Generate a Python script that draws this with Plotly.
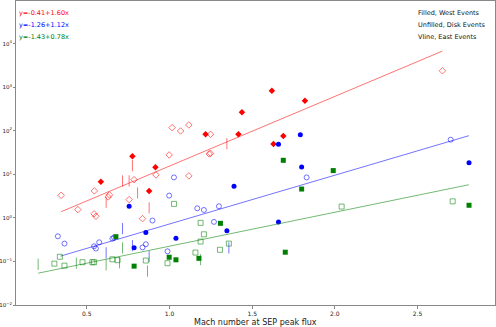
import plotly.graph_objects as go

# red = diamonds, blue = circles, green = squares
# filled = West, open = Disk, vline = East
red_west_x = [0.776, 0.915, 1.218, 1.417, 1.438, 1.619, 1.819, 1.688, 1.629, 0.585, 0.877]
red_west_y = [25.9, 14.5, 83, 83, 265, 830, 490, 76, 50, 6.8, 4.16]
red_disk_x = [0.998, 1.016, 1.067, 1.117, 1.248, 1.240, 1.248, 2.65, 0.345, 0.446, 0.546, 0.544,
              0.555, 0.637, 0.629, 0.786, 0.918, 1.117, 0.756, 0.837]
red_disk_y = [27.9, 118, 99, 136, 83, 29.4, 30.3, 2390, 3.3, 1.55, 4.16, 1.24,
              1.09, 3.37, 3.03, 7.55, 9.7, 9.2, 2.63, 0.96]
red_east_x = [1.347, 0.776, 0.617, 0.716, 0.756, 0.807, 0.877]
red_east_y = [50.6, 15.8, 2.28, 7.06, 7.06, 3.74, 1.7]

blue_west_x = [1.659, 1.791, 1.799, 2.811, 1.659, 0.756, 1.39, 1.347, 1.039, 0.857, 0.786]
blue_west_y = [48.8, 81, 14.8, 18.5, 0.81, 1.85, 5.3, 0.51, 0.34, 0.46, 0.205]
blue_disk_x = [2.70, 1.829, 1.027, 0.998, 0.897, 1.168, 1.208, 1.299, 1.269, 0.988, 0.857,
               0.655, 0.665, 0.837, 0.575, 0.544, 0.555, 0.325, 0.365]
blue_disk_y = [62.5, 8.5, 8.5, 3.25, 0.87, 1.66, 1.52, 1.85, 0.81, 0.171, 0.248,
               0.335, 0.353, 0.21, 0.275, 0.223, 0.198, 0.378, 0.257]
blue_east_x = [1.359, 0.716, 0.776, 0.877, 0.617]
blue_east_y = [0.205, 0.57, 0.231, 0.13, 0.157]

green_west_x = [1.688, 1.990, 1.799, 2.811, 1.700, 1.308, 1.178, 1.039, 0.998, 0.676, 0.786]
green_west_y = [21, 12.2, 4.6, 1.95, 0.163, 0.75, 0.118, 0.109, 0.125, 0.37, 0.078]
green_disk_x = [2.041, 2.712, 1.027, 1.188, 1.208, 1.188, 1.359, 1.305, 1.157, 0.988, 0.857,
                0.686, 0.655, 0.544, 0.534, 0.474, 0.365, 0.304, 0.337]
green_disk_y = [1.82, 2.4, 2.1, 0.77, 0.42, 0.286, 0.257, 0.185, 0.16, 0.091, 0.105,
                0.107, 0.112, 0.096, 0.096, 0.096, 0.08, 0.089, 0.128]
green_east_x = [1.188, 0.716, 0.867, 0.617, 0.437, 0.206, 0.698]
green_east_y = [0.11, 0.205, 0.06, 0.0836, 0.091, 0.086, 0.093]

# fit: log10(y) = a + b*x, drawn over [x0, x1]
fit_a = [-0.41, -1.26, -1.43]
fit_b = [1.60, 1.12, 0.78]
fit_x0 = [0.345, 0.341, 0.206]
fit_x1 = [2.65, 2.81, 2.81]

x_ticks = [0.5, 1.0, 1.5, 2.0, 2.5]
y_ticks = [1e-2, 1e-1, 1e0, 1e1, 1e2, 1e3, 1e4]
y_labels = ['10<sup>\u22122</sup>', '10<sup>\u22121</sup>', '10<sup>0</sup>', '10<sup>1</sup>',
            '10<sup>2</sup>', '10<sup>3</sup>', '10<sup>4</sup>']

colors = ['#ff0000', '#0000ff', '#008000']
light = ['rgba(255,0,0,0.55)', 'rgba(0,0,255,0.55)', 'rgba(0,128,0,0.55)']
shapes = ['diamond', 'circle', 'square']

groups = [
    (red_west_x, red_west_y, red_disk_x, red_disk_y, red_east_x, red_east_y),
    (blue_west_x, blue_west_y, blue_disk_x, blue_disk_y, blue_east_x, blue_east_y),
    (green_west_x, green_west_y, green_disk_x, green_disk_y, green_east_x, green_east_y),
]

fig = go.Figure()

for i, (wx, wy, dx, dy, ex, ey) in enumerate(groups):
    xs = [fit_x0[i], fit_x1[i]]
    ys = [10 ** (fit_a[i] + fit_b[i] * v) for v in xs]
    fig.add_trace(go.Scatter(x=xs, y=ys, mode='lines',
                             line=dict(color=light[i], width=1)))
    fig.add_trace(go.Scatter(x=wx, y=wy, mode='markers',
                             marker=dict(symbol=shapes[i], size=5, color=colors[i],
                                         line=dict(width=0))))
    fig.add_trace(go.Scatter(x=dx, y=dy, mode='markers',
                             marker=dict(symbol=shapes[i] + '-open', size=5, color=light[i],
                                         line=dict(width=1, color=light[i]))))
    fig.add_trace(go.Scatter(x=ex, y=ey, mode='markers',
                             marker=dict(symbol='line-ns', size=8,
                                         line=dict(width=1, color=light[i]))))

eq_text = ['y=-0.41+1.60x', 'y=-1.26+1.12x', 'y=-1.43+0.78x']
key_text = ['Filled, West Events', 'Unfilled, Disk Events', 'Vline, East Events']
for k in range(3):
    fig.add_annotation(x=0.003, y=0.961 - k * 0.0395, xref='paper', yref='paper',
                       text=eq_text[k], showarrow=False, xanchor='left', yanchor='middle',
                       font=dict(size=6.5, color=colors[k]))
    fig.add_annotation(x=0.835, y=0.961 - k * 0.0395, xref='paper', yref='paper',
                       text=key_text[k], showarrow=False, xanchor='left', yanchor='middle',
                       font=dict(size=6.5, color='#111111'))

# axis title as an annotation so it sits where the reference has it
fig.add_annotation(x=0.5, y=-0.057, xref='paper', yref='paper',
                   text='Mach number at SEP peak flux', showarrow=False,
                   xanchor='center', yanchor='middle',
                   font=dict(size=8, color='#222222'))

fig.update_layout(
    width=496, height=327,
    margin=dict(l=16, r=1, t=1, b=22),
    plot_bgcolor='white', paper_bgcolor='white',
    showlegend=False,
    font=dict(family='DejaVu Sans', color='#222222'),
)
fig.update_xaxes(range=[0.072, 2.968], tickvals=x_ticks, tickformat='.1f',
                 showgrid=False, zeroline=False, showline=True, linecolor='#888888',
                 linewidth=1, mirror=True, ticks='outside', ticklen=3, tickcolor='#888888',
                 tickfont=dict(size=6), automargin=False)
fig.update_yaxes(type='log', range=[-2, 4.98], tickvals=y_ticks, ticktext=y_labels,
                 showgrid=False, zeroline=False, showline=True, linecolor='#888888',
                 linewidth=1, mirror=True, ticks='outside', ticklen=2, tickcolor='#888888',
                 tickfont=dict(size=5.5), automargin=False)

# the page body has a default 8px margin; drop it so the figure fills the window
fig.write_html("out.html", config={'displayModeBar': False},
               post_script="document.body.style.margin='0';")
